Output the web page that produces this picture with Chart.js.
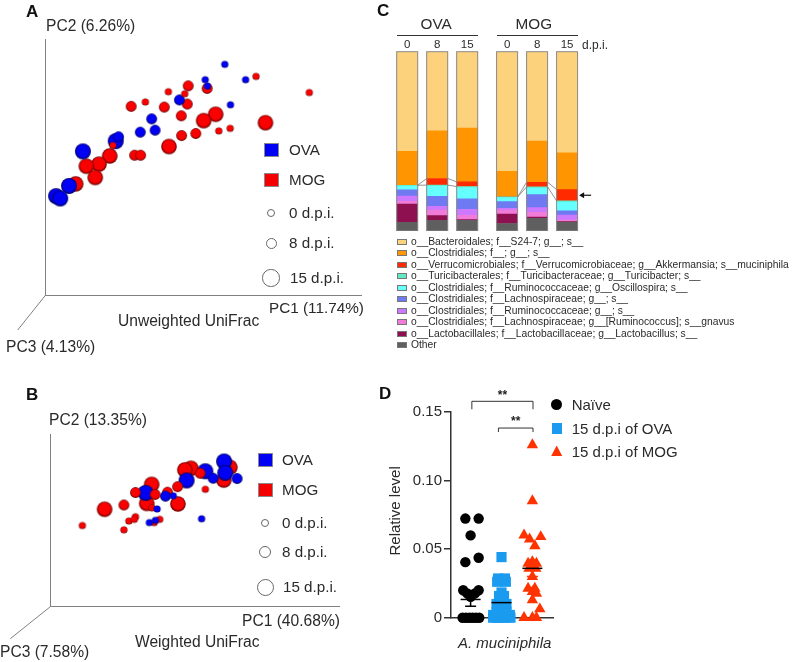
<!DOCTYPE html>
<html>
<head>
<meta charset="utf-8">
<title>Figure</title>
<script src="https://cdn.jsdelivr.net/npm/chart.js@4"></script>
<style>
  html, body { margin: 0; padding: 0; background: #fff; }
  #page { position: relative; width: 800px; height: 662px; overflow: hidden; font-family: "Liberation Sans", Arial, sans-serif; color: #2a2a2a; filter: blur(0.4px); }
  #page canvas { position: absolute; }
  .lbl { position: absolute; white-space: nowrap; transform: translateY(-50%); line-height: 1; }
  .mark { position: absolute; box-sizing: border-box; }
</style>
</head>
<body>
<div id="page"></div>
<script>
// panel A, axis scores (percent of drawn axis length)
const ova0A = [[56.8,90.1],[63.4,84.1],[50.6,84.1],[51.3,81.6],[58.6,74.3]];
const mog0A = [[66.7,85.4],[83.6,79.1],[38.9,79.4],[31.6,75.4],[54.9,64.1],[58.5,65.1],[21.3,58.4],[44.1,78.6]];
const ova8A = [[33.6,68.8],[30.0,63.6],[34.7,64.4],[42.4,76.2],[23.1,61.8]];
const mog8A = [[27.1,73.7],[37.6,73.4],[43.0,70.0],[43.1,62.3],[47.6,63.1],[45.2,81.7],[51.2,80.7],[44.9,74.6],[28.2,54.6],[30.1,54.6]];
const ova15A = [[22.2,60.1],[11.8,56.1],[7.4,42.6],[3.3,38.6],[4.6,37.7]];
const mog15A = [[69.7,67.3],[53.9,70.6],[50.1,68.1],[39.1,58.0],[20.3,54.3],[16.9,51.1],[12.9,50.3],[15.7,45.9],[9.5,43.4]];

// panel B
const ova0B = [[37.0,56.6],[34.3,48.7],[36.4,50.0],[52.4,50.9],[42.6,64.2]];
const mog0B = [[11.1,47.0],[25.5,44.5],[27.2,49.6],[29.5,52.1],[29.1,50.6],[37.9,50.6],[53.7,68.0],[36.0,48.7],[35.2,57.2]];
const ova8B = [[39.9,64.0],[56.4,74.4],[64.7,74.2]];
const mog8B = [[29.5,66.1],[25.5,58.9],[36.3,65.0],[40.6,66.3],[44.1,69.5],[51.9,77.3]];
const ova15B = [[33.0,65.9],[47.2,73.1],[53.7,78.4],[60.2,84.1],[60.6,77.5]];
const mog15B = [[18.8,56.4],[44.2,59.5],[33.4,59.8],[35.1,70.8],[48.7,80.1],[46.6,79.2],[62.2,80.7],[60.1,73.3]];

// panel C
const barPositions = [0, 1, 2, 3.33, 4.33, 5.33];
const doseLabels = ['0', '8', '15', '0', '8', '15'];
const taxa = [
  'o__Bacteroidales; f__S24-7; g__; s__',
  'o__Clostridiales; f__; g__; s__',
  'o__Verrucomicrobiales; f__Verrucomicrobiaceae; g__Akkermansia; s__muciniphila',
  'o__Turicibacterales; f__Turicibacteraceae; g__Turicibacter; s__',
  'o__Clostridiales; f__Ruminococcaceae; g__Oscillospira; s__',
  'o__Clostridiales; f__Lachnospiraceae; g__; s__',
  'o__Clostridiales; f__Ruminococcaceae; g__; s__',
  'o__Clostridiales; f__Lachnospiraceae; g__[Ruminococcus]; s__gnavus',
  'o__Lactobacillales; f__Lactobacillaceae; g__Lactobacillus; s__',
  'Other'
];
const taxaColors = ['#fdd27c','#ff9500','#ff2a00','#62e8c4','#66ffff','#6f7af2','#cc78ff','#f07cd8','#8e1050','#5f5f5f'];
const bacteroidales = [55.5,44.1,42.6,66.7,49.9,56.4];
const clostridialesU = [19.0,26.6,30.0,14.3,22.9,20.5];
const akkermansia = [0,3.7,2.6,0,2.6,6.3];
const turicibacter = [0.4,0.6,0.6,0.4,0.6,0.7];
const oscillospira = [2.2,5.6,6.3,2.2,3.7,4.8];
const lachnoU = [3.4,5.6,5.8,3.7,7.3,2.4];
const ruminoU = [3.0,2.2,3.4,1.1,2.6,2.8];
const gnavus = [1.5,3.0,2.4,2.2,2.6,0.9];
const lactobacillus = [10.2,2.6,0.4,5.2,0.7,0.2];
const other = [4.8,6.0,5.9,4.2,7.1,5.0];
const taxaValues = [bacteroidales,clostridialesU,akkermansia,turicibacter,oscillospira,lachnoU,ruminoU,gnavus,lactobacillus,other];

// panel D
const naive = [[0.83,.0723],[1.26,.0723],[1,.06],[0.83,.0405],[1.26,.0437],[0.76,.02],[1.26,.02],[0.89,.0177],[1.14,.0177],[1,.0153],
  [0.74,0],[0.85,0],[0.96,0],[1.06,0],[1.17,0],[1.28,0]];
const ova15 = [[2,.0442],[1.86,.0262],[2.14,.0262],[1.89,.0286],[2.11,.0286],[2,.0184],[1.92,.0158],[2.08,.0158],[2,.0129],[1.84,.01],[2.16,.01],[1.95,.008],[2.05,.008],
  [1.84,.0044],[2.16,.0044],[1.73,.002],[2.27,.002],[1.73,0],[1.86,0],[2,0],[2.14,0],[2.29,0]];
const mog15 = [[3,.126],[3,.0852],[2.73,.0602],[3.27,.059],[2.91,.0573],[3.08,.0524],[3,.0408],[2.86,.0396],[3.13,.0396],[3,.0371],[2.89,.0359],[3.11,.0359],[3,.0299],
  [2.86,.0214],[3.08,.0214],[3,.0189],[3.13,.0177],[3,.0129],[3.24,.0063],[2.73,0],[3,0],[3.13,0]];
const groupMeans = [.0133,.011,.036];
const groupSems = [.005,.004,.006];
const yTicksD = [0,.05,.1,.15];

const page = document.getElementById('page');

function label(text, x, y, size, extra) {
  const el = document.createElement('span');
  el.className = 'lbl';
  el.textContent = text;
  el.style.left = x + 'px';
  el.style.top = y + 'px';
  el.style.fontSize = size + 'px';
  if (extra) Object.assign(el.style, extra);
  page.appendChild(el);
  return el;
}

function mark(x, y, w, h, extra) {
  const el = document.createElement('div');
  el.className = 'mark';
  el.style.left = x + 'px';
  el.style.top = y + 'px';
  el.style.width = w + 'px';
  el.style.height = h + 'px';
  Object.assign(el.style, extra);
  page.appendChild(el);
}

function addCanvas(left, top, width, height) {
  const c = document.createElement('canvas');
  c.width = width;
  c.height = height;
  c.style.left = left + 'px';
  c.style.top = top + 'px';
  c.style.width = width + 'px';
  c.style.height = height + 'px';
  page.appendChild(c);
  return c.getContext('2d');
}

// shaded ball used as point style in the two PCoA panels
function sphere(rgb, dark, r) {
  const c = document.createElement('canvas');
  const s = Math.ceil(r * 2 + 2);
  c.width = s;
  c.height = s;
  const g = c.getContext('2d');
  const grad = g.createRadialGradient(s / 2, s / 2 - r * 0.25, r * 0.1, s / 2, s / 2, r);
  grad.addColorStop(0, rgb);
  grad.addColorStop(0.7, rgb);
  grad.addColorStop(1, dark);
  g.fillStyle = grad;
  g.beginPath();
  g.arc(s / 2, s / 2, r, 0, Math.PI * 2);
  g.fill();
  return c;
}

const toPoints = rows => rows.map(([x, y]) => ({ x, y }));

function pcoaChart(ctx, area, sets, pc3) {
  const ballSet = (rows, rgb, dark, r) => ({
    data: toPoints(rows),
    pointStyle: sphere(rgb, dark, r),
    pointRadius: r,
    clip: false
  });
  new Chart(ctx, {
    type: 'scatter',
    data: {
      // first dataset ends up on top
      datasets: [
        ballSet(sets.ova0, '#0000f5', '#000060', 3.6),
        ballSet(sets.mog0, '#fa0000', '#600000', 3.6),
        ballSet(sets.ova8, '#0000f5', '#000060', 5.4),
        ballSet(sets.mog8, '#fa0000', '#600000', 5.4),
        ballSet(sets.ova15, '#0000f5', '#000060', 8),
        ballSet(sets.mog15, '#fa0000', '#600000', 7.8)
      ]
    },
    options: {
      responsive: false,
      animation: false,
      layout: { padding: area },
      plugins: { legend: { display: false }, tooltip: { enabled: false } },
      scales: {
        x: {
          min: 0, max: 100,
          afterFit: s => { s.height = 0; },
          ticks: { display: false },
          grid: { display: false },
          border: { color: '#808080', width: 1 }
        },
        y: {
          min: 0, max: 100,
          afterFit: s => { s.width = 0; },
          ticks: { display: false },
          grid: { display: false },
          border: { color: '#808080', width: 1 }
        }
      }
    },
    plugins: [{
      id: 'pc3Axis',
      afterDraw(chart) {
        const { ctx, scales } = chart;
        const x0 = scales.x.getPixelForValue(0);
        const y0 = scales.y.getPixelForValue(0);
        ctx.save();
        ctx.strokeStyle = '#808080';
        ctx.lineWidth = 1;
        ctx.beginPath();
        ctx.moveTo(x0, y0);
        ctx.lineTo(x0 + pc3[0], y0 + pc3[1]);
        ctx.stroke();
        ctx.restore();
      }
    }]
  });
}

function pcoaLegend(sq, dots, textX, font) {
  [['OVA', '#0000f5', sq.y[0]], ['MOG', '#f50000', sq.y[1]]].forEach(([t, col, y]) => {
    mark(sq.x, y - 7, 14.5, 14, { background: col, border: '1px solid #8a8a8a' });
    label(t, textX, y, font);
  });
  dots.forEach(d => {
    mark(d.x - d.r, d.y - d.r, d.r * 2, d.r * 2, { border: '1px solid #666', borderRadius: '50%' });
    label(d.t, textX + (d.dx || 0), d.y, font);
  });
}

// A
pcoaChart(addCanvas(0, 30, 370, 310), { left: 45.7, right: 8, top: 3, bottom: 45 },
  { ova0: ova0A, mog0: mog0A, ova8: ova8A, mog8: mog8A, ova15: ova15A, mog15: mog15A }, [-28, 35]);
label('A', 26, 11, 17, { fontWeight: 'bold', color: '#111' });
label('PC2 (6.26%)', 46, 26, 15.6);
label('PC1 (11.74%)', 269, 308, 15.3);
label('Unweighted UniFrac', 118, 321, 15.6);
label('PC3 (4.13%)', 6, 347, 15.6);
pcoaLegend({ x: 264, y: [150, 180] }, [
  { t: '0 d.p.i.', x: 271, y: 213, r: 4 },
  { t: '8 d.p.i.', x: 271, y: 243, r: 5.5 },
  { t: '15 d.p.i.', x: 271, y: 278, r: 8.7, dx: 1 }
], 289, 15.2);

// B
pcoaChart(addCanvas(0, 425, 370, 230), { left: 50.3, right: 31, top: 5.7, bottom: 48.3 },
  { ova0: ova0B, mog0: mog0B, ova8: ova8B, mog8: mog8B, ova15: ova15B, mog15: mog15B }, [-40, 32]);
label('B', 26, 394, 17, { fontWeight: 'bold', color: '#111' });
label('PC2 (13.35%)', 49, 420, 15.6);
label('PC1 (40.68%)', 242, 621, 15.6);
label('Weighted UniFrac', 135, 642, 15.6);
label('PC3 (7.58%)', 0, 652, 15.6);
pcoaLegend({ x: 258, y: [460, 490] }, [
  { t: '0 d.p.i.', x: 265, y: 523, r: 4 },
  { t: '8 d.p.i.', x: 265, y: 552, r: 6 },
  { t: '15 d.p.i.', x: 265, y: 587, r: 8.5, dx: 1 }
], 282, 15.2);

// C
const stackSets = taxa.map((t, i) => ({
  label: t,
  data: barPositions.map((x, j) => ({ x, y: taxaValues[i][j] })),
  backgroundColor: taxaColors[i],
  borderWidth: 0
})).reverse();
new Chart(addCanvas(385, 37, 215, 194), {
  type: 'bar',
  data: { datasets: stackSets },
  options: {
    responsive: false,
    animation: false,
    barThickness: 21,
    layout: { autoPadding: false, padding: { right: 20 } },
    plugins: { legend: { display: false }, tooltip: { enabled: false } },
    scales: {
      x: {
        type: 'linear',
        position: 'top',
        stacked: true,
        offset: false, // bar charts turn this on by default, it shifts a linear axis
        min: -0.74, max: 5.76,
        afterBuildTicks: s => { s.ticks = barPositions.map(value => ({ value })); },
        afterFit: s => { s.height = 14.7; },
        ticks: {
          autoSkip: false, maxRotation: 0, padding: 0,
          font: { size: 11.5, family: '"Liberation Sans"' }, color: '#2a2a2a',
          callback: (v, i) => doseLabels[i]
        },
        grid: { display: false, drawTicks: false },
        border: { display: false }
      },
      y: { display: false, stacked: true, min: 0, max: 100 }
    }
  },
  plugins: [{
    id: 'akkLinks',
    afterDatasetsDraw(chart) {
      const { ctx, scales: { y } } = chart;
      const idx = chart.data.datasets.findIndex(d => d.label === taxa[2]);
      const bars = chart.getDatasetMeta(idx).data;
      ctx.save();
      // grey frame round each whole bar
      ctx.strokeStyle = '#8a8a8a';
      ctx.lineWidth = 1;
      bars.forEach(b => {
        ctx.strokeRect(b.x - 10.5, y.getPixelForValue(100), 21, y.getPixelForValue(0) - y.getPixelForValue(100));
      });
      ctx.strokeStyle = '#777';
      ctx.lineWidth = 0.8;
      for (let i = 0; i < bars.length - 1; i++) {
        if (i === 2) continue; // OVA and MOG groups are not linked
        const a = bars[i], b = bars[i + 1];
        ctx.beginPath();
        ctx.moveTo(a.x + 10.5, a.y);
        ctx.lineTo(b.x - 10.5, b.y);
        ctx.moveTo(a.x + 10.5, a.base);
        ctx.lineTo(b.x - 10.5, b.base);
        ctx.stroke();
      }
      // arrow to the last red segment
      const last = bars[bars.length - 1];
      const ay = (last.y + last.base) / 2;
      const ax = last.x + 12;
      ctx.strokeStyle = ctx.fillStyle = '#111';
      ctx.lineWidth = 1.2;
      ctx.beginPath();
      ctx.moveTo(ax + 12, ay);
      ctx.lineTo(ax + 2, ay);
      ctx.stroke();
      ctx.beginPath();
      ctx.moveTo(ax, ay);
      ctx.lineTo(ax + 5, ay - 3);
      ctx.lineTo(ax + 5, ay + 3);
      ctx.fill();
      ctx.restore();
    }
  }]
});
label('C', 377, 10, 17, { fontWeight: 'bold', color: '#111' });
label('OVA', 420.5, 24, 15.3);
label('MOG', 515.5, 24, 15.3);
mark(397, 34.5, 81, 1, { background: '#333' });
mark(497, 34.5, 81, 1, { background: '#333' });
label('d.p.i.', 582, 45, 12);
taxa.forEach((t, i) => {
  const y = 242 + i * 11.45;
  mark(397, y - 3, 10, 6, { background: taxaColors[i], border: '0.5px solid #777' });
  label(t, 411, y, 10.3);
});

// D
const markerSet = (rows, style, col, r) => ({
  data: toPoints(rows), pointStyle: style, pointRadius: r,
  backgroundColor: col, borderColor: col, borderWidth: 0, clip: false
});
new Chart(addCanvas(380, 380, 200, 282), {
  type: 'scatter',
  data: {
    datasets: [
      markerSet(mog15, 'triangle', '#ff3300', 6.6),
      markerSet(ova15, 'rect', '#1a9bf0', 7.2),
      markerSet(naive, 'circle', '#000', 5.2)
    ]
  },
  options: {
    responsive: false,
    animation: false,
    layout: { padding: { top: 32, right: 27 } },
    plugins: { legend: { display: false }, tooltip: { enabled: false } },
    scales: {
      x: {
        min: 0.365, max: 3.667,
        afterFit: s => { s.height = 44.3; },
        ticks: { display: false },
        grid: { display: false },
        border: { color: '#333', width: 1.5 }
      },
      y: {
        min: 0, max: 0.15,
        afterFit: s => { s.width = 71; },
        afterBuildTicks: s => { s.ticks = yTicksD.map(value => ({ value })); },
        ticks: {
          font: { size: 15, family: '"Liberation Sans"' }, color: '#2a2a2a', padding: 2,
          callback: v => (v === 0 ? '0' : v.toFixed(2))
        },
        grid: { drawOnChartArea: false, tickLength: 7, tickColor: '#333', lineWidth: 1.5 },
        border: { color: '#333', width: 1.5 }
      }
    }
  },
  plugins: [{
    id: 'meansAndBrackets',
    afterDatasetsDraw(chart) {
      const { ctx, scales: { x, y } } = chart;
      const barCols = ['#000', '#1a9bf0', '#ff3300'];
      ctx.save();
      groupMeans.forEach((m, i) => {
        const cx = x.getPixelForValue(i + 1);
        const hi = y.getPixelForValue(m + groupSems[i]);
        const lo = y.getPixelForValue(m - groupSems[i]);
        ctx.strokeStyle = barCols[i];
        ctx.lineWidth = 1.5;
        ctx.beginPath();
        ctx.moveTo(cx, hi);
        ctx.lineTo(cx, lo);
        [hi, lo].forEach(py => { ctx.moveTo(cx - 5.5, py); ctx.lineTo(cx + 5.5, py); });
        ctx.stroke();
        ctx.strokeStyle = '#000';
        ctx.beginPath();
        ctx.moveTo(cx - 10, y.getPixelForValue(m));
        ctx.lineTo(cx + 10, y.getPixelForValue(m));
        ctx.stroke();
      });
      [[1.04, 3.02, .1578, .152], [1.9, 3.02, .1383, .1354]].forEach(([a, b, top, foot]) => {
        ctx.strokeStyle = '#333';
        ctx.lineWidth = 1;
        ctx.beginPath();
        ctx.moveTo(x.getPixelForValue(a), y.getPixelForValue(foot));
        ctx.lineTo(x.getPixelForValue(a), y.getPixelForValue(top));
        ctx.lineTo(x.getPixelForValue(b), y.getPixelForValue(top));
        ctx.lineTo(x.getPixelForValue(b), y.getPixelForValue(foot));
        ctx.stroke();
        ctx.fillStyle = '#222';
        ctx.font = 'bold 12px "Liberation Sans"';
        ctx.textAlign = 'center';
        ctx.textBaseline = 'middle';
        ctx.fillText('**', x.getPixelForValue((a + b) / 2), y.getPixelForValue(top) - 6);
      });
      ctx.restore();
    }
  }]
});
label('D', 379, 393, 17, { fontWeight: 'bold', color: '#111' });
label('Relative level', 350, 511, 15, { width: '89px', textAlign: 'center', transform: 'translateY(-50%) rotate(-90deg)', left: '350px' });
label('A. muciniphila', 458, 642, 15, { fontStyle: 'italic' });
mark(551.2, 399, 11, 11, { background: '#000', borderRadius: '50%' });
mark(551.7, 423, 10.5, 10.5, { background: '#1a9bf0' });
mark(551.2, 445.5, 11, 10.5, { background: '#ff3300', clipPath: 'polygon(50% 0, 100% 100%, 0 100%)' });
label('Naïve', 571.7, 404, 15);
label('15 d.p.i of OVA', 571.7, 428, 15);
label('15 d.p.i of MOG', 571.7, 451, 15);
</script>
</body>
</html>
